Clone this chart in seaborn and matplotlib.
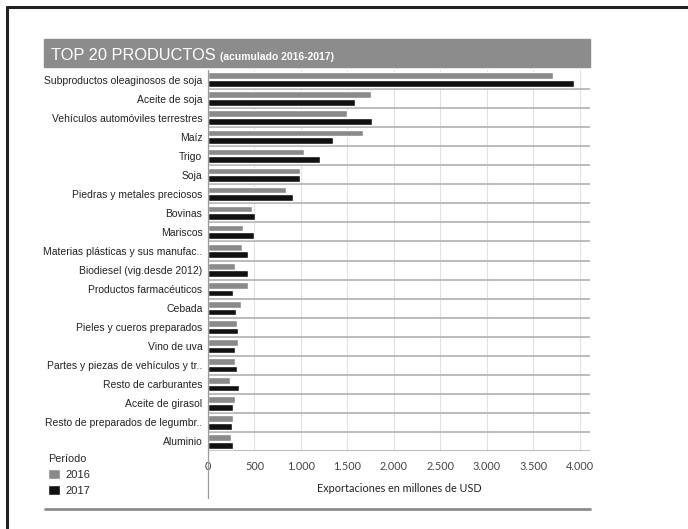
import matplotlib
matplotlib.use("Agg")
import matplotlib.pyplot as plt
import pandas as pd
import seaborn as sns
from matplotlib.lines import Line2D
from matplotlib.patches import Rectangle

productos = [
    "Subproductos oleaginosos de soja",
    "Aceite de soja",
    "Vehículos automóviles terrestres",
    "Maíz",
    "Trigo",
    "Soja",
    "Piedras y metales preciosos",
    "Bovinas",
    "Mariscos",
    "Materias plásticas y sus manufac..",
    "Biodiesel (vig.desde 2012)",
    "Productos farmacéuticos",
    "Cebada",
    "Pieles y cueros preparados",
    "Vino de uva",
    "Partes y piezas de vehículos y tr..",
    "Resto de carburantes",
    "Aceite de girasol",
    "Resto de preparados de legumbr..",
    "Aluminio",
]
valores_2016 = [3710, 1750, 1490, 1665, 1030, 990, 840, 470, 380, 365,
                290, 425, 360, 315, 325, 290, 235, 285, 270, 245]
valores_2017 = [3935, 1580, 1760, 1340, 1200, 990, 910, 510, 500, 425,
                425, 270, 300, 320, 290, 315, 335, 265, 255, 265]
periodos = ["2016", "2017"]
xtick_values = [0, 500, 1000, 1500, 2000, 2500, 3000, 3500, 4000]
xtick_labels = ["0", "500", "1.000", "1.500", "2.000", "2.500", "3.000", "3.500", "4.000"]

W, H = 688, 529


def fx(px):
    return px / W


def fy(py):
    return 1 - py / H


df = pd.DataFrame({
    "Producto": productos * 2,
    "Periodo": [periodos[0]] * len(productos) + [periodos[1]] * len(productos),
    "Valor": valores_2016 + valores_2017,
})

sns.set_style("white")
plt.rcParams["font.family"] = ["Liberation Sans", "DejaVu Sans"]

fig = plt.figure(figsize=(W / 100, H / 100), dpi=100)
ax = fig.add_axes([fx(208), fy(451), fx(590) - fx(208), fy(70) - fy(451)])

sns.barplot(
    data=df, y="Producto", x="Valor", hue="Periodo", orient="h",
    palette={"2016": "#8a8a8a", "2017": "#111111"},
    width=0.8, gap=0.12, saturation=1, legend=True, ax=ax,
)

ax.set_xlim(0, 4108)
ax.set_ylim(len(productos) - 0.5, -0.5)
ax.set_xticks(xtick_values)
ax.set_xticklabels(xtick_labels, fontsize=7.8, color="#444444", family=["Lato", "DejaVu Sans"])
ax.tick_params(axis="y", labelsize=7.5, pad=4, length=0, labelcolor="#222222")
ax.tick_params(axis="x", length=0, pad=7)
ax.set_ylabel("")
ax.set_xlabel("Exportaciones en millones de USD", fontsize=7.8, color="#222222",
              family=["Lato", "DejaVu Sans"], labelpad=8)

# row separators and light vertical grid
ax.set_yticks([i + 0.5 for i in range(len(productos))], minor=True)
ax.grid(which="minor", axis="y", color="#b0b0b0", linewidth=1.2)
ax.grid(which="major", axis="x", color="#e2e2e2", linewidth=0.8)
ax.grid(which="major", axis="y", visible=False)
ax.tick_params(which="minor", length=0)
for side in ["top", "right", "bottom", "left"]:
    ax.spines[side].set_visible(False)
ax.add_line(Line2D([0, 0], [1, -0.123], transform=ax.get_xaxis_transform(),
                   color="#999999", linewidth=0.9, clip_on=False))

# legend in the lower-left corner
handles, labels = ax.get_legend_handles_labels()
ax.get_legend().remove()
leg = fig.legend(handles, labels, title="Período", loc="upper left",
                 bbox_to_anchor=(fx(44), fy(450)), frameon=False, fontsize=8,
                 title_fontsize=7.8, handlelength=1.0, handleheight=1.0,
                 handletextpad=0.5, labelspacing=0.45, borderaxespad=0)
leg._legend_box.align = "left"

# title band
fig.patches.append(Rectangle((fx(44), fy(67)), fx(590) - fx(44), fy(39) - fy(67),
                             transform=fig.transFigure, color="#8c8c8c", zorder=0))
titulo = fig.text(fx(51), fy(60), "TOP 20 PRODUCTOS", color="white", fontsize=11.8,
                  va="baseline")
fig.canvas.draw()
ext = titulo.get_window_extent(fig.canvas.get_renderer())
fig.text(fx(ext.x1 + 4), fy(60), "(acumulado 2016-2017)", color="white", fontsize=7.5,
         fontweight="bold", va="baseline")

# frame lines
fig.add_artist(Line2D([fx(45), fx(590)], [fy(509), fy(509)], color="#8c8c8c", linewidth=2))
fig.add_artist(Line2D([fx(7), fx(688)], [fy(7), fy(7)], color="#222222", linewidth=2.2))
fig.add_artist(Line2D([fx(7), fx(7)], [fy(7), fy(529)], color="#222222", linewidth=2.2))

fig.savefig("out.png", dpi=100)
